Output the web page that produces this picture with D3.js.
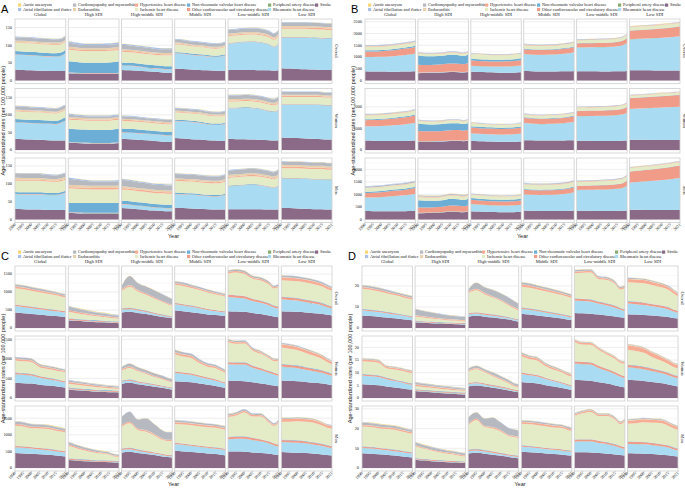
<!DOCTYPE html>
<html>
<meta charset="utf-8">
<style>
  body { margin: 0; background: #fff; }
  .tick-label, .strip, .legend-text { font-family: "Liberation Serif", "DejaVu Serif", serif; fill: #222; }
  .axis-title { font-family: "Liberation Sans", Arial, sans-serif; fill: #222; }
  .panel-letter { font-family: "Liberation Sans", Arial, sans-serif; fill: #000; }
</style>
<body>
<script src="https://d3js.org/d3.v7.min.js"></script>
<script>
// ---- data ----
const years = [1990, 1995, 2000, 2005, 2010, 2015, 2018, 2021];
const xTicks = [1990, 1995, 2000, 2005, 2010, 2015, 2021];
const sdiGroups = ["Global", "High SDI", "High-middle SDI", "Middle SDI", "Low-middle SDI", "Low SDI"];
const sexes = ["Overall", "Women", "Men"];
const causes = ["Aortic aneurysm", "Atrial fibrillation and flutter", "Cardiomyopathy and myocarditis",
  "Endocarditis", "Hypertensive heart disease", "Ischemic heart disease",
  "Non-rheumatic valvular heart disease", "Other cardiovascular and circulatory diseases",
  "Peripheral artery disease", "Rheumatic heart disease", "Stroke"];
const causeColors = ["#f7d774", "#a9c1e6", "#b7b9c0", "#e9d0ad", "#f6ad93", "#e4ebc7",
  "#6caed6", "#f19b89", "#86ad72", "#a9dcf3", "#8a6a86"];
// stacked bottom -> top (each facet lists values in this order; a single number = flat over the years)
const stackKeys = causes.slice().reverse();

const A_overall = [
  [[31,30,29,28,28,27,27,27],[42,42,42,41,40,40,42,50],0.3,1,9,[24,24,24,24,24,24,23,23],2,4,9,2,0.5],
  [[21,20,19,19,19,19,19,20],1,0.3,1,[31,30,29,29,29,30,31,32],33,3,5,[12,10,9,9,9,9,9,9],4,0.5],
  [[30,29,28,26,25,23,22,22],[12,12,11,10,9,9,9,9],0.3,1,8,[30,30,30,30,30,30,31,31],3,4,[12,12,11,11,10,10,10,10],3,0.5],
  [[34,33,31,30,29,28,28,28],[42,42,41,40,39,38,39,42],0.3,1,3,[22,22,21,21,20,20,20,21],2,3,8,2,0.5],
  [[30,30,30,30,29,29,28,29],[74,76,78,79,78,72,66,75],0.3,1,1,19,3,4,10,2,0.5],
  [[35,34,33,32,31,30,30,30],[86,87,88,89,89,89,88,88],0.3,1,1,23,4,4,10,1,0.5]
];
const A_women = [
  [[32,31,30,29,28,27,27,27],[46,46,46,46,46,46,50,56],0.3,1,9,[22,22,22,22,21,21,21,21],2,3,[9,9,8,8,8,8,8,8],2,0.5],
  [[21,20,19,18,18,18,19,20],1,0.3,1,[38,37,37,37,37,37,38,38],26,3,4,[7,6,5,5,5,5,5,5],3,0.5],
  [[32,31,29,28,26,24,23,23],18,0.3,1,[10,10,10,9,9,9,9,9],22,3,3,[7,7,7,6,6,6,6,6],2,0.5],
  [[34,33,31,30,28,27,26,26],[48,48,48,47,45,44,45,48],0.3,1,3,21,2,3,6,2,0.5],
  [[32,31,31,30,29,28,27,28],[87,88,89,89,87,82,81,86],0.3,1,1,17,3,4,10,2,0.5],
  [[36,35,34,33,32,31,30,30],[92,93,94,95,96,96,96,96],0.3,1,1,21,3,3,8,1,0.5]
];
const A_men = [
  [[30,29,28,28,27,27,27,27],[41,41,42,42,41,41,43,47],0.3,1,5,[32,32,32,32,32,31,31,31],3,5,[11,11,11,11,10,10,10,10],2,0.5],
  [[19,18,17,17,17,17,17,17],1,0.3,1,[25,26,27,27,27,27,27,28],[41,40,39,38,38,38,38,38],4,6,[17,15,13,12,12,12,12,12],3,0.5],
  [[32,31,29,27,25,24,23,23],[10,10,9,9,8,8,8,8],0.3,1,9,31,4,5,[18,17,16,15,14,14,14,14],3,0.5],
  [[33,32,31,30,29,28,28,28],[38,38,38,37,36,36,37,40],0.3,1,3,33,3,4,12,2,0.5],
  [[29,29,29,29,29,28,28,28],[63,65,67,68,66,63,60,67],0.3,1,1,22,3,5,12,2,0.5],
  [[33,32,31,30,29,29,28,28],[82,82,83,83,83,83,82,82],0.3,1,1,27,4,5,9,1,0.5]
];

const B_overall = [
  [[400,390,385,380,380,385,390,395],[600,610,620,640,670,700,720,750],5,[230,235,240,250,260,270,275,280],50,150,15,10,30,15,3],
  [[310,320,330,340,360,350,340,360],20,5,[340,320,320,330,340,340,330,360],[400,370,360,360,370,360,350,360],90,15,10,20,15,3],
  [[370,360,350,340,330,330,340,350],[260,250,250,250,260,270,280,290],5,[230,220,220,220,220,220,220,230],70,[200,200,195,190,190,190,190,190],10,10,20,10,3],
  [[410,400,390,390,390,395,400,410],[720,700,700,710,720,740,760,790],5,[200,200,200,200,200,210,210,220],30,150,15,10,25,10,3],
  [[400,400,395,390,390,395,400,410],[1000,1010,1020,1030,1040,1060,1090,1180],5,[170,170,170,175,175,180,185,200],10,[120,120,120,125,125,125,130,135],15,10,20,5,3],
  [[440,440,435,430,430,430,430,430],[1310,1330,1350,1370,1390,1410,1430,1450],5,[360,365,370,380,390,400,405,410],10,140,15,10,15,5,3]
];
const B_women = [
  [[440,430,420,420,420,425,430,440],[660,670,690,710,740,770,790,820],5,[280,285,290,300,310,320,330,340],40,180,20,10,25,15,3],
  [[380,380,390,400,420,420,410,430],20,5,[480,460,450,460,470,480,460,480],[350,330,320,320,330,320,310,320],120,15,10,20,15,3],
  [[420,410,400,390,380,380,390,400],[350,340,330,330,330,340,350,360],5,[270,260,260,260,260,260,260,270],60,[140,140,130,130,130,130,130,130],10,10,15,10,3],
  [[460,450,440,440,440,445,450,460],[790,770,760,770,780,800,820,850],5,[230,230,230,230,235,240,245,250],30,120,15,10,20,10,3],
  [[430,430,425,420,420,425,430,440],[1130,1140,1150,1160,1170,1190,1210,1280],5,[230,230,235,240,245,250,255,270],10,[150,150,150,150,150,150,150,155],15,10,20,5,3],
  [[480,480,475,470,470,470,470,470],[1420,1440,1460,1480,1500,1510,1520,1530],5,[490,495,500,510,520,530,540,545],10,110,15,10,10,5,3]
];
const B_men = [
  [[340,335,330,330,330,335,340,345],[530,540,560,590,610,630,650,670],5,[180,185,190,200,210,220,230,240],50,150,15,10,40,15,3],
  [[250,260,270,280,310,300,290,310],15,5,[210,200,200,210,230,230,220,240],[290,270,260,260,270,260,250,260],130,15,10,30,15,3],
  [[330,320,310,300,290,290,300,310],[280,270,260,260,260,265,270,275],5,[170,165,165,165,165,165,165,170],70,[130,130,125,120,120,120,120,120],10,10,20,10,3],
  [[360,350,345,340,340,345,350,360],[640,630,630,640,650,670,690,720],5,[180,180,180,180,185,190,195,200],30,180,15,10,30,10,3],
  [[350,350,345,340,340,345,350,360],[820,830,840,850,860,880,900,980],5,[160,160,165,170,175,180,185,200],10,[150,150,150,155,155,155,160,165],15,10,25,5,3],
  [[390,390,385,380,380,380,380,380],[1070,1100,1130,1160,1190,1220,1250,1270],5,[440,445,450,460,470,480,490,490],10,130,15,10,15,5,3]
];

const C_overall = [
  [[430,410,390,370,350,335,320,310],[180,170,160,150,140,130,125,120],3,[35,35,34,33,32,31,30,30],10,[450,450,440,430,420,400,390,380],[50,48,46,44,42,40,38,38],5,[50,50,48,46,44,42,40,40],8,5],
  [[220,200,185,170,160,150,140,135],10,3,[25,25,24,23,22,21,20,20],15,[180,160,140,120,105,90,85,80],[40,37,34,31,29,27,26,25],5,[100,90,80,70,62,58,55,55],15,10],
  [[430,450,420,390,350,310,290,270],[80,75,65,55,45,35,30,25],3,[30,32,30,28,26,24,22,20],10,[470,580,490,440,390,340,310,290],[35,40,35,32,30,28,26,25],5,[90,250,190,190,190,185,175,160],5,5],
  [[490,470,440,410,380,360,350,340],[170,160,150,135,120,105,95,90],3,[30,30,30,29,28,27,26,26],8,[500,500,480,470,450,430,420,400],[45,43,41,39,37,35,34,34],5,[45,45,42,40,38,36,35,35],6,4],
  [[470,460,450,420,390,350,320,300],[390,380,370,330,310,280,250,240],3,[60,60,58,55,52,50,48,48],10,[580,630,610,550,560,520,470,540],[40,40,40,38,36,34,32,32],5,[40,45,45,40,40,40,38,40],5,5],
  [[470,460,450,430,410,390,370,350],[330,320,310,290,270,240,210,190],3,[60,60,58,56,54,52,50,48],15,[450,460,464,470,465,453,441,429],[80,80,78,76,74,70,66,62],10,[45,45,45,43,42,40,38,36],5,5]
];
const C_women = [
  [[390,380,370,340,320,300,280,265],[220,210,200,180,160,145,135,125],3,[35,35,34,32,30,28,27,26],10,[300,300,300,220,220,220,220,230],[45,44,43,40,38,36,35,35],4,[40,40,40,37,35,34,33,33],6,4],
  [[220,200,185,170,160,150,145,140],10,3,[25,24,23,22,21,20,20,20],15,[90,85,80,70,62,55,52,50],[45,42,38,34,31,28,27,26],4,[40,36,33,30,28,26,25,25],12,5],
  [[360,390,350,320,290,260,240,220],[50,50,45,40,35,30,27,25],3,[25,27,25,23,21,20,19,18],8,[250,290,250,220,180,160,135,120],[30,32,30,27,25,23,22,22],3,[55,75,70,70,65,63,60,58],4,3],
  [[430,415,400,370,340,310,285,265],[210,200,190,170,150,130,115,100],3,[35,35,34,32,30,28,27,26],8,[430,400,390,310,270,280,260,240],[55,52,50,46,42,40,38,37],4,[55,52,50,46,42,40,38,37],5,3],
  [[450,440,430,400,370,340,320,300],[410,410,420,370,340,300,280,260],3,[50,50,50,48,45,42,40,40],10,[500,470,480,380,360,320,290,320],[40,40,40,38,36,34,33,33],5,[30,30,30,29,28,27,26,26],5,5],
  [[450,440,430,410,390,370,350,330],[350,340,330,310,290,270,250,230],3,[60,60,58,56,54,52,50,48],15,[410,400,385,355,325,285,250,230],[80,80,78,76,74,70,66,62],10,[25,25,24,23,22,21,20,20],5,5]
];
const C_men = [
  [[450,440,430,415,400,380,360,345],[170,165,155,145,135,125,120,115],3,[40,40,39,38,37,36,35,35],10,[600,590,560,580,590,570,570,560],[50,49,48,47,46,45,44,44],5,[70,70,65,63,62,60,58,58],10,10],
  [[240,220,205,190,180,175,170,170],10,3,[30,29,28,27,26,25,25,25],15,[380,320,270,230,200,170,125,110],[35,33,31,29,27,25,24,24],5,[60,55,50,45,40,38,36,35],10,10],
  [[460,490,450,420,390,350,330,320],[80,75,65,55,45,38,33,30],3,[35,37,35,33,31,29,27,26],10,[650,730,580,570,510,420,410,430],[40,45,40,38,36,33,31,30],5,[250,300,270,360,290,245,230,225],5,5],
  [[520,500,480,460,440,420,400,380],[200,195,185,175,165,160,160,160],3,[35,35,34,33,32,31,30,30],8,[560,570,580,580,580,590,580,570],[55,54,53,52,51,50,49,48],5,[50,49,48,47,46,45,44,44],8,6],
  [[500,500,490,470,450,430,410,395],[360,380,390,370,350,310,270,250],3,[60,60,60,58,56,54,52,52],10,[600,630,720,640,680,560,520,660],[45,45,45,44,43,42,41,41],5,[40,42,45,42,40,38,37,37],5,5],
  [[480,470,460,450,430,410,390,375],[300,300,300,290,270,250,235,220],3,[60,60,60,58,56,54,52,50],15,[530,545,570,575,590,545,520,525],[80,80,80,78,76,74,72,70],10,[25,25,25,24,23,22,21,20],5,5]
];

const D_overall = [
  [[6.0,5.7,5.4,5.0,4.6,4.2,3.9,3.6],[2.4,2.3,2.2,2.0,1.8,1.6,1.5,1.4],0.05,[0.5,0.5,0.5,0.5,0.5,0.4,0.4,0.4],0.2,[9.5,9.4,9.1,8.8,8.5,8.2,8.0,7.9],[0.8,0.8,0.8,0.7,0.7,0.7,0.7,0.7],0.1,[0.8,0.8,0.8,0.8,0.7,0.7,0.7,0.7],0.1,0.1],
  [[2.8,2.5,2.3,2.1,1.9,1.8,1.7,1.6],0.2,0.05,0.3,0.2,[1.9,1.7,1.5,1.3,1.1,1.0,0.9,0.9],[0.6,0.5,0.5,0.4,0.4,0.4,0.4,0.4],0.1,[2.8,2.5,2.2,2.0,1.8,1.6,1.5,1.5],0.2,0.1],
  [[5.4,5.8,5.4,5.0,4.5,4.0,3.5,3.1],[1.0,1.0,0.9,0.8,0.7,0.6,0.5,0.4],0.05,[0.5,0.5,0.5,0.5,0.5,0.4,0.4,0.4],0.2,[9.4,10.4,9.0,7.9,6.9,5.5,4.8,4.2],[0.6,0.6,0.6,0.5,0.5,0.5,0.5,0.5],0.1,[0.9,2.8,2.6,3.0,3.0,3.0,2.8,2.6],0.1,0.1],
  [[6.8,6.4,6.0,5.5,5.0,4.5,4.1,3.8],[2.3,2.2,2.0,1.8,1.6,1.4,1.3,1.2],0.05,0.5,0.2,[9.8,9.8,9.6,9.4,9.2,9.0,8.8,8.5],[1.0,1.0,0.9,0.9,0.8,0.8,0.8,0.8],0.1,[0.9,0.9,0.8,0.8,0.8,0.7,0.7,0.7],0.1,0.1],
  [[7.2,7.0,6.8,6.4,6.0,5.5,5.1,4.8],[5.8,5.8,5.7,5.1,4.7,4.1,3.6,3.3],0.05,[0.9,0.9,0.9,0.8,0.8,0.8,0.7,0.7],0.2,[11.9,12.3,12.7,10.6,11.1,10.2,8.7,9.9],[0.7,0.7,0.7,0.7,0.6,0.6,0.6,0.6],0.1,[0.6,0.7,0.7,0.6,0.6,0.6,0.5,0.5],0.1,0.1],
  [[6.6,6.4,6.2,5.9,5.6,5.2,4.8,4.5],[5.0,4.9,4.7,4.4,4.1,3.6,3.1,2.7],0.05,[1.0,1.0,1.0,0.9,0.9,0.9,0.8,0.8],0.2,[8.9,9.0,9.1,9.0,8.6,8.2,7.6,6.8],[1.5,1.5,1.5,1.4,1.4,1.3,1.3,1.2],0.2,0.4,0.1,0.1]
];
const D_women = [
  [[5.5,5.3,5.1,4.6,4.2,3.8,3.5,3.3],[3.4,3.3,3.2,2.8,2.5,2.2,2.0,1.9],0.05,[0.5,0.5,0.5,0.5,0.4,0.4,0.4,0.4],0.2,[4.9,5.0,4.9,3.6,3.9,4.0,4.0,3.9],[0.7,0.7,0.7,0.6,0.6,0.6,0.6,0.6],0.1,0.3,0.1,0.1],
  [[2.8,2.5,2.3,2.0,1.8,1.6,1.5,1.4],0.2,0.05,0.3,0.2,[1.2,1.1,1.0,0.9,0.8,0.7,0.7,0.7],[0.6,0.6,0.5,0.5,0.5,0.4,0.4,0.4],0.1,[0.7,0.6,0.6,0.5,0.5,0.5,0.4,0.4],0.2,0.1],
  [[4.6,5.0,4.6,4.1,3.6,3.0,2.6,2.3],[0.8,0.8,0.7,0.6,0.5,0.4,0.3,0.3],0.05,0.4,0.1,[4.5,5.0,4.3,3.4,2.6,1.8,1.2,1.0],0.4,0.1,[0.6,0.8,0.7,0.9,0.9,0.8,0.7,0.7],0.1,0.1],
  [[6.3,6.0,5.7,5.1,4.6,4.0,3.6,3.3],[3.2,3.0,2.8,2.4,2.0,1.7,1.5,1.3],0.05,[0.5,0.5,0.5,0.4,0.4,0.4,0.4,0.4],0.1,[6.4,5.8,5.6,4.5,4.0,3.8,3.5,3.3],[0.8,0.8,0.8,0.7,0.7,0.6,0.6,0.6],0.1,[0.5,0.4,0.4,0.4,0.4,0.3,0.3,0.3],0.1,0.1],
  [[7.2,7.0,6.8,6.2,5.7,5.0,4.6,4.2],[6.4,6.4,6.4,5.6,5.0,4.4,3.9,3.6],0.05,[0.8,0.8,0.8,0.8,0.7,0.7,0.7,0.7],0.1,[7.6,6.8,6.9,6.2,5.6,5.2,4.6,4.9],[0.7,0.7,0.7,0.6,0.6,0.6,0.6,0.6],0.1,0.2,0.1,0.1],
  [[7.2,7.0,6.7,6.3,5.9,5.4,5.0,4.6],[4.9,4.8,4.6,4.3,4.0,3.6,3.3,3.2],0.05,[0.9,0.9,0.9,0.9,0.8,0.8,0.8,0.8],0.2,[5.8,5.6,5.4,4.5,4.0,3.4,3.0,2.9],[1.8,1.8,1.7,1.6,1.5,1.4,1.3,1.3],0.2,0.2,0.1,0.1]
];
const D_men = [
  [[7.5,7.3,7.0,6.7,6.3,5.9,5.6,5.3],[2.7,2.6,2.5,2.3,2.2,2.1,2.0,2.0],0.05,[0.6,0.6,0.6,0.6,0.6,0.5,0.5,0.5],0.2,[9.9,10.0,9.8,9.9,10.0,9.6,9.4,9.3],0.8,0.1,[1.1,1.1,1.1,1.0,1.0,1.0,0.9,0.9],0.2,0.2],
  [[4.2,3.8,3.5,3.2,3.0,2.8,2.6,2.5],0.2,0.05,0.4,0.2,[6.0,5.2,4.5,3.9,3.4,3.0,2.7,2.5],0.5,0.1,[1.3,1.2,1.1,1.0,0.9,0.9,0.9,0.9],0.2,0.2],
  [[7.4,7.8,7.3,6.8,6.2,5.6,5.2,4.9],[1.2,1.1,1.0,0.9,0.8,0.7,0.6,0.6],0.05,[0.6,0.6,0.6,0.6,0.5,0.5,0.5,0.5],0.2,[12.2,14.6,11.6,11.5,10.8,9.1,9.2,9.0],[0.6,0.7,0.6,0.6,0.6,0.5,0.5,0.5],0.1,[3.2,3.0,3.6,4.8,3.8,3.4,3.2,3.1],0.1,0.1],
  [[8.3,8.0,7.7,7.4,7.1,6.8,6.5,6.3],[2.6,2.5,2.4,2.2,2.1,2.0,1.9,1.9],0.05,0.5,0.2,[10.8,10.9,10.9,10.8,10.6,10.7,10.3,9.8],[0.9,0.9,0.9,0.9,0.9,0.8,0.8,0.8],0.1,0.7,0.1,0.1],
  [[8.0,8.0,7.9,7.6,7.3,6.9,6.6,6.3],[5.3,5.5,5.6,5.1,4.8,4.2,3.7,3.3],0.05,[0.9,0.9,0.9,0.9,0.8,0.8,0.8,0.8],0.2,[12.0,13.1,13.8,12.5,13.2,12.3,10.9,12.8],0.7,0.1,0.5,0.1,0.1],
  [[7.5,7.4,7.3,7.1,6.8,6.5,6.1,5.8],[4.7,4.7,4.7,4.5,4.3,3.9,3.4,3.0],0.05,[1.0,1.0,1.0,1.0,0.9,0.9,0.9,0.9],0.2,[9.0,9.4,10.0,10.1,10.6,9.9,9.6,9.3],[1.5,1.5,1.5,1.5,1.4,1.4,1.4,1.4],0.2,0.4,0.1,0.1]
];

// y tick labels per row (free y scale per row)
const A_ticks = [[0,50,100,150],[0,50,100,150],[0,50,100,150]];
const B_ticks = [[0,500,1000,1500,2000,2500],[0,1000,2000],[0,500,1000,1500,2000]];
const C_ticks = [[0,500,1000,1500],[0,500,1000,1500],[0,500,1000,1500]];
const D_ticks = [[0,10,20],[0,5,10,15,20],[0,10,20,30]];

// ---- layout ----
const width = 685, height = 488;
const panels = [
  {id: "A", rows: [A_overall, A_women, A_men], ticks: A_ticks, x0: 15, x1: 332, top: 19, rowStep: 69.5, rowH: 64.5},
  {id: "B", rows: [B_overall, B_women, B_men], ticks: B_ticks, x0: 365, x1: 680, top: 19, rowStep: 69.5, rowH: 64.5},
  {id: "C", rows: [C_overall, C_women, C_men], ticks: C_ticks, x0: 15, x1: 332, top: 266, rowStep: 70, rowH: 65},
  {id: "D", rows: [D_overall, D_women, D_men], ticks: D_ticks, x0: 362, x1: 678, top: 266, rowStep: 70, rowH: 65}
];
const gap = 2.5;
const legendOffsets = [3, 58, 120, 172, 253, 300];

const svg = d3.select("body").append("svg")
  .attr("width", width)
  .attr("height", height);
svg.append("rect").attr("width", width).attr("height", height).attr("fill", "#fff");

const color = d3.scaleOrdinal().domain(causes).range(causeColors);

let clipId = 0;

panels.forEach(p => {
  const g = svg.append("g");
  const fw = (p.x1 - p.x0 - 5 * gap) / 6;
  const x = d3.scaleLinear().domain([1990, 2021]).range([0, fw]);

  // panel letter
  g.append("text").attr("class", "panel-letter")
    .attr("x", p.x0 - 14).attr("y", p.top - 6)
    .style("font-size", "11px")
    .text(p.id);

  // legend: 2 rows, filled by column
  causes.forEach((c, i) => {
    const col = Math.floor(i / 2), row = i % 2;
    const lx = p.x0 + legendOffsets[col];
    const ly = p.top - 15.5 + row * 4.4;
    g.append("rect").attr("x", lx).attr("y", ly).attr("width", 3.2).attr("height", 3.2)
      .attr("fill", color(c));
    g.append("text").attr("class", "legend-text")
      .attr("x", lx + 5).attr("y", ly + 2.8)
      .style("font-size", "4.3px")
      .text(c);
  });

  // column strips
  sdiGroups.forEach((s, j) => {
    g.append("text").attr("class", "strip")
      .attr("x", p.x0 + j * (fw + gap) + fw / 2).attr("y", p.top - 2.6)
      .attr("text-anchor", "middle")
      .style("font-size", "4.6px")
      .text(s);
  });

  p.rows.forEach((rowData, r) => {
    const top = p.top + r * p.rowStep;
    const bottom = top + p.rowH;

    const stacked = rowData.map(f => {
      const table = years.map((yr, i) => {
        const o = {year: yr};
        stackKeys.forEach((k, j) => { o[k] = Array.isArray(f[j]) ? f[j][i] : f[j]; });
        return o;
      });
      return d3.stack().keys(stackKeys)(table);
    });
    const maxV = d3.max(stacked, s => d3.max(s[s.length - 1], d => d[1]));
    const y = d3.scaleLinear().domain([-0.05 * maxV, 1.05 * maxV]).range([bottom, top]);
    const ticks = p.ticks[r];
    const step = ticks[1] - ticks[0];
    const minor = d3.range(ticks[0] + step / 2, y.domain()[1], step);

    // y tick labels (left)
    ticks.forEach(t => {
      g.append("text").attr("class", "tick-label")
        .attr("x", p.x0 - 3).attr("y", y(t) + 1.4)
        .attr("text-anchor", "end")
        .style("font-size", "4.3px")
        .text(d3.format(",")(t).replace(/,/g, ""));
    });

    // right strip
    g.append("text").attr("class", "strip")
      .attr("transform", `translate(${p.x1 + 2.5},${(top + bottom) / 2}) rotate(90)`)
      .attr("text-anchor", "middle")
      .style("font-size", "4.6px")
      .text(sexes[r]);

    stacked.forEach((series, j) => {
      const fx = p.x0 + j * (fw + gap);
      const fg = g.append("g").attr("transform", `translate(${fx},0)`);
      const id = "clip" + (clipId++);
      fg.append("clipPath").attr("id", id)
        .append("rect").attr("x", 0).attr("y", top).attr("width", fw).attr("height", p.rowH);

      // grid
      minor.forEach(t => {
        fg.append("line").attr("x1", 0).attr("x2", fw).attr("y1", y(t)).attr("y2", y(t))
          .attr("stroke", "#f0f0f0").attr("stroke-width", 0.5);
      });
      ticks.forEach(t => {
        fg.append("line").attr("x1", 0).attr("x2", fw).attr("y1", y(t)).attr("y2", y(t))
          .attr("stroke", "#e2e2e2").attr("stroke-width", 0.6);
      });

      const area = d3.area()
        .x(d => x(d.data.year))
        .y0(d => y(d[0]))
        .y1(d => y(d[1]))
        .curve(d3.curveMonotoneX);

      fg.append("g").attr("clip-path", `url(#${id})`)
        .selectAll("path")
        .data(series)
        .join("path")
        .attr("d", area)
        .attr("fill", d => color(d.key));

      fg.append("rect").attr("x", 0).attr("y", top).attr("width", fw).attr("height", p.rowH)
        .attr("fill", "none").attr("stroke", "#cfcfcf").attr("stroke-width", 0.8);

      // x axis only under the last row
      if (r === p.rows.length - 1) {
        xTicks.forEach(t => {
          fg.append("line").attr("x1", x(t)).attr("x2", x(t)).attr("y1", bottom).attr("y2", bottom + 1.3)
            .attr("stroke", "#888").attr("stroke-width", 0.4);
          fg.append("text").attr("class", "tick-label")
            .attr("transform", `translate(${x(t) + 1},${bottom + 2.5}) rotate(-45)`)
            .attr("text-anchor", "end")
            .style("font-size", "4.3px")
            .text(t);
        });
      }
    });
  });

  const lastBottom = p.top + 2 * p.rowStep + p.rowH;
  // axis titles
  g.append("text").attr("class", "axis-title")
    .attr("x", (p.x0 + p.x1) / 2).attr("y", lastBottom + 15)
    .attr("text-anchor", "middle")
    .style("font-size", "5.5px")
    .text("Year");
  g.append("text").attr("class", "axis-title")
    .attr("transform", `translate(${p.x0 - 10},${(p.top + lastBottom) / 2}) rotate(-90)`)
    .attr("text-anchor", "middle")
    .style("font-size", "5.5px")
    .text("Age-standardized rates (per 100,000 people)");
});
</script>
</body>
</html>
